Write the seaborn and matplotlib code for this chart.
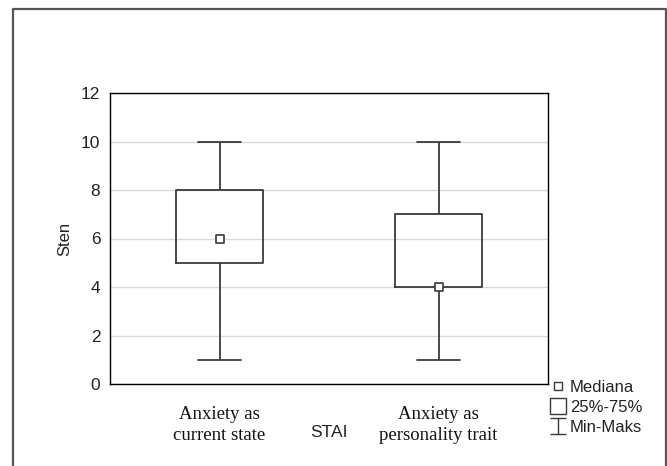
import numpy as np
import pandas as pd
import seaborn as sns
import matplotlib.pyplot as plt
from matplotlib.lines import Line2D
from matplotlib.path import Path

categories = ["Anxiety as\ncurrent state", "Anxiety as\npersonality trait"]
minimum = [1, 1]
q1 = [5, 4]
median = [6, 4]
q3 = [8, 7]
maximum = [10, 10]
yticks = [0, 2, 4, 6, 8, 10, 12]
legend_labels = ["Mediana", "25%-75%", "Min-Maks"]

# five-number data: with 5 points, percentiles 0/25/50/75/100 hit these exactly
rows = []
for c, a, b, m, d, e in zip(categories, minimum, q1, median, q3, maximum):
    for v in (a, b, m, d, e):
        rows.append({"group": c, "Sten": v})
df = pd.DataFrame(rows)
med_df = pd.DataFrame({"group": categories, "Sten": median})

sns.set_theme(style="white")
plt.rcParams['font.family'] = ['Liberation Sans', 'DejaVu Sans']

fig = plt.figure(figsize=(6.67, 4.66), dpi=100)
ax = fig.add_axes([110 / 667, 1 - 384 / 466, 438 / 667, 291 / 466])

line_c = '#3a3a3a'
sns.boxplot(data=df, x="group", y="Sten", whis=(0, 100), width=0.4,
            fill=False, color=line_c, linewidth=1.3,
            medianprops=dict(visible=False), ax=ax)
sns.scatterplot(data=med_df, x="group", y="Sten", marker='s', s=34,
                facecolor='white', edgecolor=line_c, linewidth=1.2,
                zorder=5, ax=ax, legend=False)

ax.set_xlim(-0.5, 1.5)
ax.set_ylim(0, 12)
ax.set_yticks(yticks)
ax.yaxis.grid(True, color='#d9d9d9', lw=1)
ax.xaxis.grid(False)
ax.set_axisbelow(True)
for s in ax.spines.values():
    s.set_visible(True)
    s.set_color('black')
    s.set_linewidth(1)

ax.tick_params(axis='y', length=0, pad=7, labelsize=12.5, labelcolor='#222222')
ax.tick_params(axis='x', direction='in', length=3, width=0.8, pad=16,
               labelsize=13.5, labelcolor='#111111')
for lab in ax.get_xticklabels():
    lab.set_fontfamily(['Liberation Serif', 'DejaVu Serif'])
    lab.set_linespacing(1.3)

ax.set_xlabel("STAI", fontsize=12.5, color='#222222')
ax.xaxis.set_label_coords(0.5, -0.165)
ax.xaxis.label.set_va('center')
ax.set_ylabel("Sten", fontsize=12, color='#222222')
ax.yaxis.set_label_coords(-0.103, 0.5)
ax.yaxis.label.set_va('center')

# legend
ipath = Path([(-1, 1), (1, 1), (0, 1), (0, -1), (-1, -1), (1, -1)],
             [Path.MOVETO, Path.LINETO, Path.MOVETO, Path.LINETO,
              Path.MOVETO, Path.LINETO])
handles = [
    Line2D([], [], marker='s', ls='none', markersize=6, mfc='white',
           mec=line_c, mew=1.0),
    Line2D([], [], marker='s', ls='none', markersize=11, mfc='white',
           mec=line_c, mew=1.0),
    Line2D([], [], marker=ipath, ls='none', markersize=11, mfc='none',
           mec=line_c, mew=1.0),
]
fig.legend(handles, legend_labels, loc='upper left',
           bbox_to_anchor=(550 / 667, 1 - 380 / 466), frameon=False,
           handlelength=0.9, handletextpad=0.3, labelspacing=0.3,
           fontsize=12, borderpad=0, borderaxespad=0, labelcolor='#222222')

# outer frame
fig.add_artist(Line2D([13.5 / 667, 13.5 / 667, 665.5 / 667, 665.5 / 667],
                      [0, 1 - 9 / 466, 1 - 9 / 466, 0],
                      transform=fig.transFigure, color='#555555', lw=1.6))

fig.savefig("out.png", dpi=100)
